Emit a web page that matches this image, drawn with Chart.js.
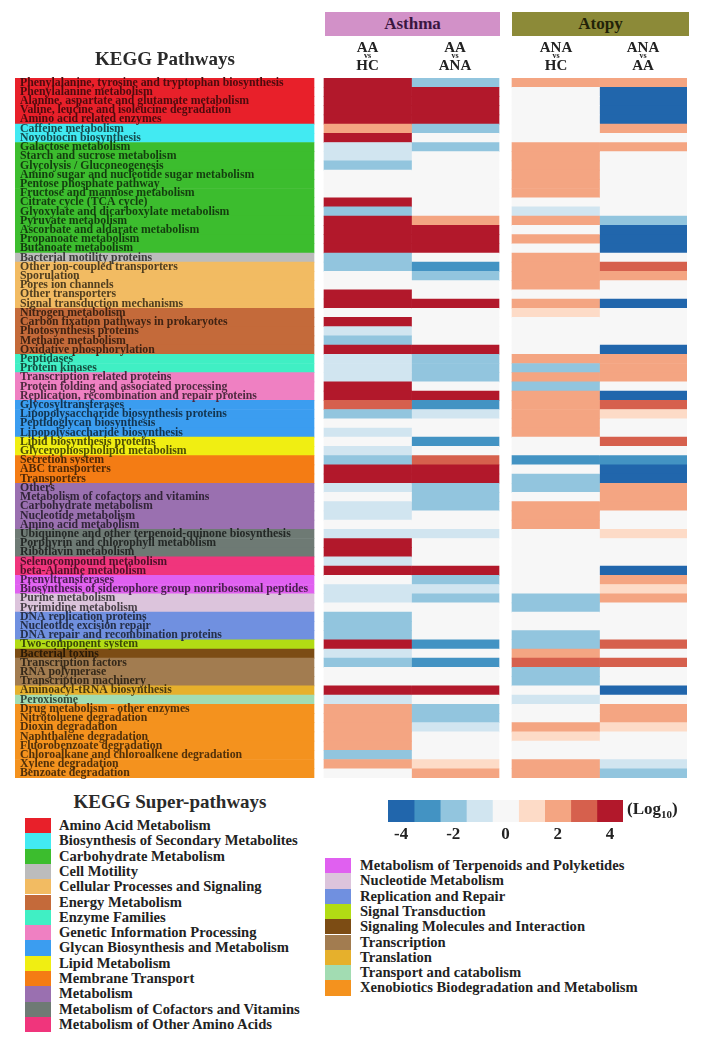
<!DOCTYPE html>
<html>
<head>
<meta charset="utf-8">
<script src="https://cdn.jsdelivr.net/npm/chart.js"></script>
<style>
  body { margin: 0; background: #fff; }
  #page { position: relative; width: 707px; height: 1050px; overflow: hidden;
          font-family: "Liberation Serif", "Times New Roman", serif; font-weight: bold; color: #222; }
  .abs { position: absolute; }
  .title { font-size: 19px; text-align: center; color: #2a2a2a; }
  .grp { height: 24px; line-height: 24px; text-align: center; font-size: 17px; }
  .cmp { width: 88px; text-align: center; font-size: 15px; line-height: 12px; color: #222; }
  .cmp .vs { font-size: 8px; line-height: 6px; }
  .leg { font-size: 14.6px; line-height: 15.3px; white-space: nowrap; color: #222; }
  .sw { width: 26px; height: 15.3px; }
</style>
</head>
<body>
<div id="page">
  <canvas id="heat" class="abs" width="707" height="790" style="left:0;top:0"></canvas>
  <canvas id="scale" class="abs" width="255" height="50" style="left:378px;top:795px"></canvas>
  <div class="abs title" style="left:15px;top:48px;width:300px">KEGG Pathways</div>
  <div class="abs title" style="left:15px;top:791px;width:310px">KEGG Super-pathways</div>
  <div class="abs" style="left:627px;top:799px;font-size:17px">(Log<sub style="font-size:11px">10</sub>)</div>
</div>
<script>
// rows of the heatmap, top to bottom
var pathways = [
  'Phenylalanine, tyrosine and tryptophan biosynthesis', 'Phenylalanine metabolism',
  'Alanine, aspartate and glutamate metabolism', 'Valine, leucine and isoleucine degradation',
  'Amino acid related enzymes', 'Caffeine metabolism', 'Novobiocin biosynthesis',
  'Galactose metabolism', 'Starch and sucrose metabolism', 'Glycolysis / Gluconeogenesis',
  'Amino sugar and nucleotide sugar metabolism', 'Pentose phosphate pathway',
  'Fructose and mannose metabolism', 'Citrate cycle (TCA cycle)',
  'Glyoxylate and dicarboxylate metabolism', 'Pyruvate metabolism',
  'Ascorbate and aldarate metabolism', 'Propanoate metabolism', 'Butanoate metabolism',
  'Bacterial motility proteins', 'Other ion-coupled transporters', 'Sporulation',
  'Pores ion channels', 'Other transporters', 'Signal transduction mechanisms',
  'Nitrogen metabolism', 'Carbon fixation pathways in prokaryotes', 'Photosynthesis proteins',
  'Methane metabolism', 'Oxidative phosphorylation', 'Peptidases', 'Protein kinases',
  'Transcription related proteins', 'Protein folding and associated processing',
  'Replication, recombination and repair proteins', 'Glycosyltransferases',
  'Lipopolysaccharide biosynthesis proteins', 'Peptidoglycan biosynthesis',
  'Lipopolysaccharide biosynthesis', 'Lipid biosynthesis proteins',
  'Glycerophospholipid metabolism', 'Secretion system', 'ABC transporters', 'Transporters',
  'Others', 'Metabolism of cofactors and vitamins', 'Carbohydrate metabolism',
  'Nucleotide metabolism', 'Amino acid metabolism',
  'Ubiquinone and other terpenoid-quinone biosynthesis', 'Porphyrin and chlorophyll metabolism',
  'Riboflavin metabolism', 'Selenocompound metabolism', 'beta-Alanine metabolism',
  'Prenyltransferases', 'Biosynthesis of siderophore group nonribosomal peptides',
  'Purine metabolism', 'Pyrimidine metabolism', 'DNA replication proteins',
  'Nucleotide excision repair', 'DNA repair and recombination proteins',
  'Two-component system', 'Bacterial toxins', 'Transcription factors', 'RNA polymerase',
  'Transcription machinery', 'Aminoacyl-tRNA biosynthesis', 'Peroxisome',
  'Drug metabolism - other enzymes', 'Nitrotoluene degradation', 'Dioxin degradation',
  'Naphthalene degradation', 'Fluorobenzoate degradation',
  'Chloroalkane and chloroalkene degradation', 'Xylene degradation', 'Benzoate degradation'
];

var superPathways = [
  'Amino Acid Metabolism', 'Biosynthesis of Secondary Metabolites', 'Carbohydrate Metabolism',
  'Cell Motility', 'Cellular Processes and Signaling', 'Energy Metabolism', 'Enzyme Families',
  'Genetic Information Processing', 'Glycan Biosynthesis and Metabolism', 'Lipid Metabolism',
  'Membrane Transport', 'Metabolism', 'Metabolism of Cofactors and Vitamins',
  'Metabolism of Other Amino Acids', 'Metabolism of Terpenoids and Polyketides',
  'Nucleotide Metabolism', 'Replication and Repair', 'Signal Transduction',
  'Signaling Molecules and Interaction', 'Transcription', 'Translation',
  'Transport and catabolism', 'Xenobiotics Biodegradation and Metabolism'
];
// number of pathway rows in each super-pathway, same order
var superCounts = [5, 2, 12, 1, 5, 5, 2, 3, 4, 2, 3, 5, 3, 2, 2, 2, 3, 1, 1, 3, 1, 1, 8];
var superColors = [
  '#e8202a', '#42eaf2', '#3cbd2e', '#bcbcbc', '#f2bb62', '#c46a3a', '#40efc4', '#ef80c2',
  '#3b9df0', '#f0ee12', '#f47c14', '#9a70b0', '#6e7a74', '#f0357c', '#e060f0', '#dcc4dc',
  '#7090e0', '#b2dc14', '#7c4c14', '#a27c50', '#e6b02c', '#a2dcb2', '#f4921e'
];

var diseases = ['Asthma', 'Atopy'];
var comparisons = [['AA', 'HC'], ['AA', 'ANA'], ['ANA', 'HC'], ['ANA', 'AA']];

// log10 fold changes, one value per pathway row
var aaVsHc = [4, 4, 4, 4, 4, 2, 4, -1, -1, -2, 0, 0, 0, 4, -2, 4, 4, 4, 4, -2,
  -2, 0, 0, 4, 4, 0, 4, -1, -2, 4, -1, -1, -1, 4, 4, 3, -2, 0, -1, 0,
  -1, -2, 4, 4, -1, 0, -1, -1, 0, -1, 4, 4, -1, 4, 0, -1, -1, 0, -2, -2,
  -2, 4, -1, -2, 0, 0, 4, -1, 2, 2, 2, 2, 2, -2, 2, 0];
var aaVsAna = [-2, 4, 4, 4, 4, -2, 0, -2, 0, 0, 0, 0, 0, 0, 0, 2, 4, 4, 4, 0,
  -3, -2, 0, 0, 4, 0, 0, 0, 0, 4, -2, -2, -2, 0, 4, -3, -1, 0, 0, -3,
  0, 3, 4, 4, -2, -2, -2, 0, 0, -1, 0, 0, 0, 4, -2, -1, -2, 0, 0, 0,
  0, -3, 0, -3, 0, 0, 4, 0, -2, -2, -1, 0, 0, 0, 1, 2];
var anaVsHc = [2, 0, 0, 0, 0, 0, 0, 2, 2, 2, 2, 2, 2, 0, -1, 2, 0, 2, 0, 2,
  2, 2, 2, 0, 2, 1, 0, 0, 0, 0, 2, -2, 2, -2, 2, 2, 2, 2, 2, 0,
  0, -3, 0, -2, -2, 0, 2, 2, 2, 0, 0, 0, 0, 0, 0, 0, -2, -2, 0, 0,
  -2, -2, 2, 3, -2, -2, 0, -1, 0, 0, 2, 1, 0, 0, 2, 2];
var anaVsAa = [2, -4, -4, -4, -4, 2, 0, 2, 0, 0, 0, 0, 0, 0, 0, -2, -4, -4, -4, 0,
  3, 2, 0, 0, -4, 0, 0, 0, 0, -4, 2, 2, 2, 0, -4, 3, 1, 0, 0, 3,
  0, -3, -4, -4, 2, 2, 2, 0, 0, 1, 0, 0, 0, -4, 2, 1, 2, 0, 0, 0,
  0, 3, 0, 3, 0, 0, -4, 0, 2, 2, 1, 0, 0, 0, -1, -2];

var scaleTicks = [-4, -2, 0, 2, 4];
var scaleSteps = [-4, -3, -2, -1, 0, 1, 2, 3, 4];

// colours for -4 .. 4 (RdBu)
var rdbu = ['#2166ac', '#4393c3', '#92c5de', '#d1e5f0', '#f7f7f7',
            '#fddbc7', '#f4a582', '#d6604d', '#b2182b'];
function valueColor(v) { return rdbu[Math.round(v) + 4]; }

function shade(hex, f) {
  var n = parseInt(hex.slice(1), 16);
  var r = Math.round(((n >> 16) & 255) * f), g = Math.round(((n >> 8) & 255) * f), b = Math.round((n & 255) * f);
  return 'rgb(' + r + ',' + g + ',' + b + ')';
}

// row -> super-pathway index
var rowGroup = [];
superCounts.forEach(function(c, g) { for (var i = 0; i < c; i++) rowGroup.push(g); });

// x layout in chart-area pixels (0..672)
var stripSpan = [0, 299];
var columnSpans = [[309, 396.5], [396.5, 484], [497, 584.5], [584.5, 672]];
var columnValues = [aaVsHc, aaVsAna, anaVsHc, anaVsAa];

var datasets = [{
  label: 'Super-pathway',
  data: pathways.map(function() { return stripSpan; }),
  backgroundColor: rowGroup.map(function(g) { return superColors[g]; })
}];
columnValues.forEach(function(vals, c) {
  datasets.push({
    label: comparisons[c].join(' vs '),
    data: vals.map(function() { return columnSpans[c]; }),
    backgroundColor: vals.map(valueColor)
  });
});

var labelColors = rowGroup.map(function(g) { return shade(superColors[g], 0.33); });

new Chart(document.getElementById('heat'), {
  type: 'bar',
  data: { labels: pathways, datasets: datasets },
  options: {
    indexAxis: 'y',
    responsive: false,
    animation: false,
    devicePixelRatio: 1,
    layout: { padding: { left: 15, right: 20, top: 78, bottom: 7 } },
    plugins: { legend: { display: false }, tooltip: { enabled: false } },
    datasets: { bar: { grouped: false, barPercentage: 1, categoryPercentage: 1, borderWidth: 0 } },
    scales: {
      x: { type: 'linear', min: 0, max: 672, display: false },
      y: {
        grid: { display: false, drawTicks: false },
        border: { display: false },
        ticks: {
          z: 1, mirror: true, padding: 5, autoSkip: false,
          font: { family: 'Liberation Serif', weight: 'bold', size: 11.8 },
          color: function(ctx) { return labelColors[ctx.index]; }
        },
        afterFit: function(s) { s.width = 0; }
      }
    }
  }
});

// colour key
new Chart(document.getElementById('scale'), {
  type: 'bar',
  data: {
    labels: ['key'],
    datasets: scaleSteps.map(function(v) {
      return { data: [[v - 0.5, v + 0.5]], backgroundColor: valueColor(v) };
    })
  },
  options: {
    indexAxis: 'y',
    responsive: false,
    animation: false,
    devicePixelRatio: 1,
    layout: { padding: { left: 10, right: 10, top: 5, bottom: 0 } },
    plugins: { legend: { display: false }, tooltip: { enabled: false } },
    datasets: { bar: { grouped: false, barPercentage: 1, categoryPercentage: 1, borderWidth: 0 } },
    scales: {
      y: { display: false },
      x: {
        type: 'linear', min: -4.5, max: 4.5,
        grid: { display: false, drawTicks: false }, border: { display: false },
        afterBuildTicks: function(s) { s.ticks = scaleTicks.map(function(v) { return { value: v }; }); },
        ticks: { padding: 2, color: '#222', font: { family: 'Liberation Serif', weight: 'bold', size: 17 } },
        afterFit: function(s) { s.height = 23; }
      }
    }
  }
});

// headers and legend
var page = document.getElementById('page');
function addDiv(cls, style, html) {
  var d = document.createElement('div');
  d.className = 'abs ' + cls;
  d.setAttribute('style', style);
  d.innerHTML = html;
  page.appendChild(d);
  return d;
}
var diseaseBoxes = [[325, 175, '#d291c8', '#3a1640'], [512, 177, '#8c8a38', '#222208']];
diseases.forEach(function(name, i) {
  var b = diseaseBoxes[i];
  addDiv('grp', 'left:' + b[0] + 'px;top:12px;width:' + b[1] + 'px;background:' + b[2] + ';color:' + b[3], name);
});
var colCenters = [367.5, 455, 556, 643];
comparisons.forEach(function(cmp, i) {
  addDiv('cmp', 'left:' + (colCenters[i] - 44) + 'px;top:41px',
    cmp[0] + '<div class="vs">vs</div>' + cmp[1]);
});
superPathways.forEach(function(name, i) {
  var left = i < 14 ? [25, 59, 818] : [325, 360, 858];
  var k = i < 14 ? i : i - 14;
  var top = left[2] + k * 15.3;
  addDiv('sw', 'left:' + left[0] + 'px;top:' + top + 'px;background:' + superColors[i], '');
  addDiv('leg', 'left:' + left[1] + 'px;top:' + top + 'px', name);
});
</script>
</body>
</html>
